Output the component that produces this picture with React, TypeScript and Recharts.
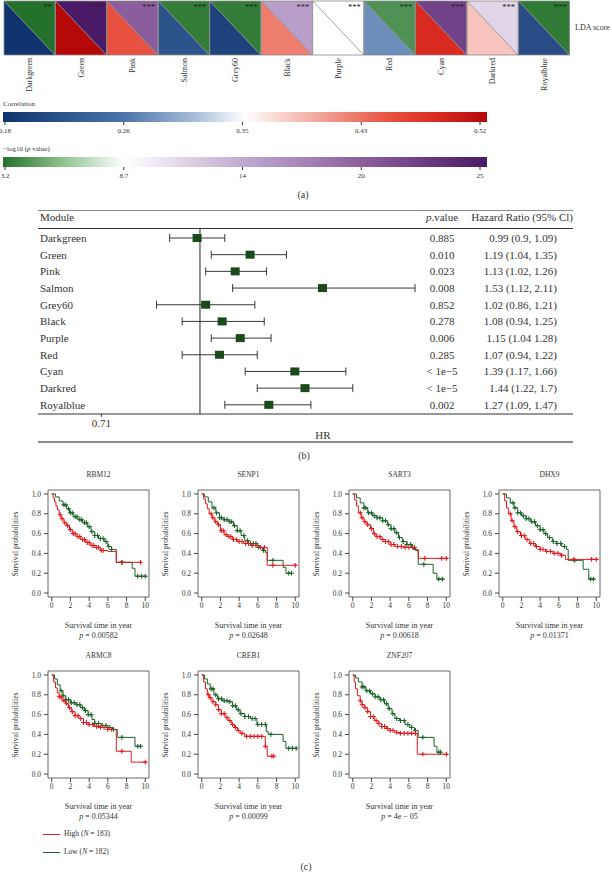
import React from "react";
import {
  BarChart, Bar, XAxis, YAxis, ComposedChart, Line, Scatter, ErrorBar, ReferenceLine, ReferenceArea,
} from "recharts";

const FONT = '"Liberation Serif", "Times New Roman", serif';
const INK = "#333";
const RED = "#e41a1c";
const GREEN = "#1c6428";

// ---- (a) module heatmap ----
const modules = ["Darkgreen", "Green", "Pink", "Salmon", "Grey60", "Black", "Purple", "Red", "Cyan", "Darkred", "Royalblue"];
const corrValues = [0.18, 0.52, 0.452, 0.221, 0.2, 0.425, 0.35, 0.282, 0.486, 0.384, 0.214];
const logpValues = [3.2, 25, 19.5, 3.6, 3.6, 14.8, 8.7, 4.3, 21.7, 11.3, 3.5];
const starLabels = ["**", "***", "***", "***", "***", "***", "***", "***", "***", "***", "***"];

const corrTicks = [0.18, 0.265, 0.35, 0.435, 0.52];
const corrTickLabels = ["0.18", "0.26", "0.35", "0.43", "0.52"];
const logpTicks = [3.2, 8.65, 14.1, 19.55, 25];
const logpTickLabels = ["3.2", "8.7", "14", "20", "25"];

const corrStops: [number, string][] = [
  [0, "#0f336e"], [0.25, "#4d75aa"], [0.4, "#a9c0da"], [0.5, "#ffffff"],
  [0.6, "#f6c4bc"], [0.7, "#ee8a7c"], [0.8, "#e85040"], [0.9, "#d82a20"], [1, "#b40808"],
];
const logpStops: [number, string][] = [
  [0, "#23712a"], [0.12, "#8cc08c"], [0.252, "#ffffff"], [0.5, "#c0a8d0"], [0.75, "#8a5c9c"], [1, "#4a1a66"],
];

// ---- (b) forest plot ----
const hrValues = [0.99, 1.19, 1.13, 1.53, 1.02, 1.08, 1.15, 1.07, 1.39, 1.44, 1.27];
const hrLower = [0.9, 1.04, 1.02, 1.12, 0.86, 0.94, 1.04, 0.94, 1.17, 1.22, 1.09];
const hrUpper = [1.09, 1.35, 1.26, 2.11, 1.21, 1.25, 1.28, 1.22, 1.66, 1.7, 1.47];
const pValueLabels = ["0.885", "0.010", "0.023", "0.008", "0.852", "0.278", "0.006", "0.285", "< 1e\u22125", "< 1e\u22125", "0.002"];
const hrLabels = [
  "0.99 (0.9, 1.09)", "1.19 (1.04, 1.35)", "1.13 (1.02, 1.26)", "1.53 (1.12, 2.11)", "1.02 (0.86, 1.21)",
  "1.08 (0.94, 1.25)", "1.15 (1.04 1.28)", "1.07 (0.94, 1.22)", "1.39 (1.17, 1.66)", "1.44 (1.22, 1.7)", "1.27 (1.09, 1.47)",
];
const hrTicks = [0.71];

// ---- (c) Kaplan-Meier curves ----
type Pt = [number, number];
const rbm12High: Pt[] = [[0,1],[0.15,0.96],[0.3,0.92],[0.45,0.88],[0.6,0.84],[0.8,0.79],[1.0,0.75],[1.3,0.71],[1.6,0.68],[1.9,0.64],[2.2,0.6],[2.6,0.57],[3.1,0.54],[3.6,0.51],[4.1,0.48],[4.6,0.46],[5.2,0.43],[6.0,0.42],[6.9,0.31],[9.5,0.31]];
const rbm12Low: Pt[] = [[0,1],[0.4,0.97],[0.8,0.93],[1.2,0.89],[1.6,0.85],[1.9,0.81],[2.3,0.77],[2.8,0.74],[3.3,0.71],[3.8,0.67],[4.2,0.62],[4.6,0.58],[5.0,0.55],[5.6,0.52],[6.0,0.47],[6.4,0.44],[6.9,0.31],[8.6,0.25],[8.9,0.17],[10.2,0.17]];
const rbm12HighCens = [0.9,1.1,1.4,1.7,2.0,2.3,2.5,2.8,3.0,3.3,3.5,3.8,4.0,4.3,4.5,4.8,5.0,5.3,5.5,7.5,9.5];
const rbm12LowCens = [1.3,1.5,1.8,2.0,2.2,2.5,2.7,3.0,3.2,3.5,3.7,4.0,4.3,4.6,4.9,5.2,5.5,5.8,6.1,6.4,7.5,9.2,9.6,10.0];

const senp1High: Pt[] = [[0,1],[0.2,0.95],[0.4,0.9],[0.6,0.85],[0.8,0.8],[1.1,0.76],[1.4,0.72],[1.7,0.69],[2.0,0.63],[2.4,0.59],[2.8,0.57],[3.3,0.54],[3.8,0.52],[4.5,0.5],[5.3,0.48],[6.2,0.46],[7.0,0.28],[10.2,0.28]];
const senp1Low: Pt[] = [[0,1],[0.3,0.97],[0.7,0.92],[1.1,0.86],[1.5,0.81],[1.9,0.76],[2.4,0.74],[2.9,0.72],[3.4,0.68],[3.8,0.63],[4.2,0.58],[4.6,0.53],[5.0,0.5],[6.0,0.46],[6.5,0.43],[6.8,0.41],[7.0,0.33],[8.7,0.26],[9.0,0.2],[9.6,0.2]];
const senp1HighCens = [1.0,1.2,1.5,1.8,2.1,2.3,2.6,2.9,3.1,3.4,3.7,4.0,4.3,4.7,5.0,5.4,5.8,6.3,6.7,7.6,10.0];
const senp1LowCens = [1.3,1.6,1.9,2.1,2.4,2.7,3.0,3.2,3.5,3.8,4.1,4.5,4.9,5.2,5.5,5.8,6.1,6.6,7.6,9.3,9.6];

const sart3High: Pt[] = [[0,1],[0.2,0.94],[0.4,0.88],[0.6,0.81],[0.9,0.76],[1.2,0.72],[1.5,0.69],[1.9,0.65],[2.2,0.6],[2.5,0.57],[3.0,0.54],[3.5,0.52],[4.0,0.49],[4.5,0.47],[5.5,0.46],[6.5,0.44],[7.0,0.35],[10.2,0.35]];
const sart3Low: Pt[] = [[0,1],[0.4,0.96],[0.8,0.91],[1.2,0.86],[1.6,0.81],[2.1,0.78],[2.6,0.76],[3.2,0.73],[3.7,0.69],[4.1,0.65],[4.5,0.61],[4.9,0.56],[5.3,0.52],[5.8,0.49],[6.3,0.46],[6.7,0.43],[7.0,0.29],[8.6,0.2],[9.0,0.14],[9.7,0.14]];
const sart3HighCens = [0.8,1.0,1.3,1.6,2.0,2.3,2.6,2.9,3.2,3.5,3.8,4.1,4.4,4.8,5.2,5.6,6.0,6.4,7.7,9.5,10.0];
const sart3LowCens = [1.2,1.4,1.7,2.0,2.3,2.6,2.9,3.2,3.5,3.8,4.1,4.4,4.7,5.0,5.4,5.8,6.2,6.6,7.6,9.2,9.6];

const dhx9High: Pt[] = [[0,1],[0.2,0.93],[0.4,0.86],[0.6,0.8],[0.9,0.73],[1.2,0.67],[1.5,0.62],[1.9,0.58],[2.4,0.54],[2.9,0.5],[3.5,0.47],[4.0,0.44],[4.6,0.42],[5.4,0.4],[6.2,0.38],[6.7,0.34],[10.2,0.34]];
const dhx9Low: Pt[] = [[0,1],[0.4,0.96],[0.8,0.91],[1.2,0.86],[1.6,0.81],[2.0,0.78],[2.5,0.75],[3.0,0.72],[3.5,0.68],[4.0,0.64],[4.4,0.6],[4.8,0.56],[5.3,0.52],[5.8,0.5],[6.3,0.47],[6.8,0.44],[7.0,0.33],[8.6,0.24],[9.2,0.14],[9.8,0.14]];
const dhx9HighCens = [0.8,1.0,1.3,1.6,2.0,2.3,2.6,3.0,3.3,3.6,4.0,4.3,4.7,5.1,5.5,5.9,6.3,7.6,9.5,10.0];
const dhx9LowCens = [1.1,1.3,1.6,1.9,2.2,2.5,2.8,3.1,3.4,3.7,4.0,4.3,4.6,5.0,5.4,5.8,6.2,6.6,7.7,9.4,9.7];

const armc8High: Pt[] = [[0,1],[0.2,0.93],[0.4,0.87],[0.6,0.82],[0.8,0.78],[1.1,0.74],[1.5,0.71],[1.8,0.67],[2.1,0.63],[2.5,0.59],[2.9,0.56],[3.4,0.52],[3.9,0.5],[4.5,0.48],[5.2,0.47],[6.0,0.45],[6.9,0.23],[8.5,0.12],[10.1,0.12]];
const armc8Low: Pt[] = [[0,1],[0.3,0.96],[0.6,0.9],[0.9,0.84],[1.2,0.79],[1.5,0.75],[2.0,0.72],[2.6,0.7],[3.1,0.67],[3.5,0.64],[3.9,0.6],[4.3,0.55],[4.6,0.51],[5.3,0.49],[6.0,0.47],[6.5,0.45],[7.0,0.37],[8.9,0.28],[9.6,0.28]];
const armc8HighCens = [0.8,1.0,1.3,1.6,1.9,2.2,2.5,2.8,3.1,3.4,3.7,4.0,4.4,4.8,5.2,5.6,6.0,6.4,7.5,10.0];
const armc8LowCens = [1.0,1.2,1.5,1.8,2.1,2.4,2.7,3.0,3.3,3.6,3.9,4.2,4.6,5.0,5.4,5.8,6.2,6.6,7.5,9.2,9.5];

const creb1High: Pt[] = [[0,1],[0.2,0.93],[0.4,0.86],[0.6,0.8],[0.8,0.77],[1.1,0.73],[1.5,0.7],[1.8,0.65],[2.1,0.61],[2.5,0.57],[2.8,0.54],[3.2,0.5],[3.5,0.47],[3.8,0.44],[4.1,0.41],[4.6,0.38],[6.8,0.28],[7.0,0.18],[7.7,0.18]];
const creb1Low: Pt[] = [[0,1],[0.3,0.96],[0.6,0.91],[0.9,0.86],[1.3,0.8],[1.7,0.76],[2.2,0.74],[2.9,0.73],[3.3,0.69],[3.7,0.65],[4.1,0.61],[4.6,0.58],[5.2,0.56],[5.9,0.5],[6.9,0.43],[7.1,0.4],[8.7,0.33],[9.0,0.26],[10.2,0.26]];
const creb1HighCens = [0.7,0.9,1.2,1.5,1.8,2.1,2.4,2.7,3.0,3.3,3.6,3.9,4.3,4.8,5.2,5.6,6.0,6.4,6.8,7.5,7.7];
const creb1LowCens = [1.0,1.2,1.5,1.8,2.1,2.4,2.7,3.0,3.3,3.6,3.9,4.2,4.6,5.0,5.4,5.7,6.0,6.4,6.8,7.4,9.3,9.7,10.1];

const znf207High: Pt[] = [[0,1],[0.15,0.93],[0.3,0.86],[0.5,0.79],[0.8,0.74],[1.0,0.7],[1.3,0.67],[1.6,0.63],[1.9,0.58],[2.3,0.54],[2.7,0.51],[3.1,0.48],[3.6,0.46],[4.0,0.44],[4.5,0.42],[5.0,0.41],[6.9,0.2],[10.2,0.2]];
const znf207Low: Pt[] = [[0,1],[0.3,0.97],[0.6,0.93],[1.0,0.88],[1.4,0.84],[1.9,0.81],[2.4,0.78],[2.9,0.75],[3.4,0.71],[3.8,0.66],[4.2,0.61],[4.5,0.56],[5.0,0.54],[5.6,0.5],[6.1,0.47],[6.6,0.44],[7.0,0.37],[8.7,0.28],[9.0,0.22],[9.5,0.22]];
const znf207HighCens = [0.8,1.0,1.3,1.6,1.9,2.2,2.5,2.8,3.1,3.4,3.7,4.0,4.3,4.7,5.1,5.5,5.9,6.3,6.7,7.5,10.0];
const znf207LowCens = [1.0,1.2,1.5,1.8,2.1,2.4,2.7,3.0,3.3,3.6,3.9,4.3,4.7,5.1,5.5,5.9,6.3,6.7,7.5,9.2,9.4];

const kmGenes = ["RBM12", "SENP1", "SART3", "DHX9", "ARMC8", "CREB1", "ZNF207"];
const kmPValues = ["0.00582", "0.02648", "0.00618", "0.01371", "0.05344", "0.00099", "4e \u2212 05"];
const kmHigh = [rbm12High, senp1High, sart3High, dhx9High, armc8High, creb1High, znf207High];
const kmLow = [rbm12Low, senp1Low, sart3Low, dhx9Low, armc8Low, creb1Low, znf207Low];
const kmHighCens = [rbm12HighCens, senp1HighCens, sart3HighCens, dhx9HighCens, armc8HighCens, creb1HighCens, znf207HighCens];
const kmLowCens = [rbm12LowCens, senp1LowCens, sart3LowCens, dhx9LowCens, armc8LowCens, creb1LowCens, znf207LowCens];
const kmXTicks = [0, 2, 4, 6, 8, 10];
const kmYTicks = [0, 0.2, 0.4, 0.6, 0.8, 1.0];

// layout
const KM_COLS = [48, 198, 349, 499];
const KM_ROWS = [490, 671];
const BOX_W = 101;
const BOX_H = 107;

function hexToRgb(h: string) {
  const n = parseInt(h.slice(1), 16);
  return [(n >> 16) & 255, (n >> 8) & 255, n & 255];
}
function ramp(stops: [number, string][], t: number) {
  const u = Math.max(0, Math.min(1, t));
  for (let i = 1; i < stops.length; i++) {
    if (u <= stops[i][0]) {
      const [t0, c0] = stops[i - 1];
      const [t1, c1] = stops[i];
      const f = (u - t0) / (t1 - t0 || 1);
      const a = hexToRgb(c0), b = hexToRgb(c1);
      return `rgb(${a.map((v, k) => Math.round(v + (b[k] - v) * f)).join(",")})`;
    }
  }
  return stops[stops.length - 1][1];
}

const T = ({ x, y, size = 8, anchor = "start", children }: any) => (
  <div style={{
    position: "absolute", left: x, top: y, fontSize: size, lineHeight: 1, whiteSpace: "nowrap",
    transform: `translate(${anchor === "middle" ? "-50%" : anchor === "end" ? "-100%" : "0"}, -50%)`,
  }}>{children}</div>
);

const HLine = ({ x, y, w, h = 1, color = "#333" }: any) => (
  <div style={{ position: "absolute", left: x, top: y, width: w, height: h, background: color }} />
);

function Tile(props: any) {
  const { x, y, width: w, height: h, payload } = props;
  const cc = ramp(corrStops, (payload.corr - 0.18) / 0.34);
  const pc = ramp(logpStops, (payload.logp - 3.2) / 21.8);
  return (
    <g>
      <path d={`M${x},${y}L${x},${y + h}L${x + w},${y + h}Z`} fill={cc} />
      <path d={`M${x},${y}L${x + w},${y}L${x + w},${y + h}Z`} fill={pc} />
      <line x1={x} y1={y} x2={x + w} y2={y + h} stroke="#8a8a8a" strokeWidth={0.8} />
      <rect x={x} y={y} width={w} height={h} fill="none" stroke="#8a8a8a" strokeWidth={0.8} />
      <text x={x + w - 3} y={y + 9} textAnchor="end" fontSize={8.5} fill="#222" fontFamily={FONT}>{payload.stars}</text>
    </g>
  );
}

const ModuleTick = ({ x, payload }: any) => (
  <text x={x} y={58} transform={`rotate(-90 ${x} 58)`} textAnchor="end" dominantBaseline="central"
    fontSize={8} fill={INK} fontFamily={FONT}>{payload.value}</text>
);

function ColorBar({ top, domain, ticks, labels, stops }: any) {
  const data = ticks.map((v: number) => ({ v }));
  const grad = `linear-gradient(to right, ${stops.map(([o, c]: [number, string]) => `${c} ${o * 100}%`).join(", ")})`;
  return (
    <div style={{ position: "absolute", left: 0, top }}>
      <div style={{ position: "absolute", left: 3, top: 0, width: 484, height: 10, background: grad }} />
      <ComposedChart width={500} height={26} data={data} margin={{ top: 0, right: 13, bottom: 0, left: 3 }}>
        <XAxis type="number" dataKey="v" domain={domain} ticks={ticks} interval={0} allowDataOverflow
          axisLine={false} tickSize={3} tickLine={{ stroke: "#333" }} height={16}
          tick={{ fontSize: 7, fill: "#333", fontFamily: FONT }} tickMargin={3}
          tickFormatter={(v: number) => labels[ticks.indexOf(v)]} />
        <YAxis hide domain={[0, 1]} />
      </ComposedChart>
    </div>
  );
}

const ForestTick = ({ y, payload }: any) => {
  const i = payload.value;
  return (
    <g fontFamily={FONT} fontSize={11} fill={INK}>
      <text x={40} y={y} dominantBaseline="central">{modules[i]}</text>
      <text x={442} y={y} dominantBaseline="central" textAnchor="middle">{pValueLabels[i]}</text>
      <text x={557} y={y} dominantBaseline="central" textAnchor="end">{hrLabels[i]}</text>
    </g>
  );
};

const HRBox = ({ cx, cy }: any) => <rect x={cx - 4.5} y={cy - 4} width={9} height={8} fill="#1a4a1a" />;

const toRows = (pts: Pt[]) => pts.map(([t, s]) => ({ t, s }));
const stepAt = (pts: Pt[], t: number) => {
  let s = pts[0][1];
  for (const [tt, ss] of pts) if (tt <= t) s = ss;
  return s;
};
const marks = (pts: Pt[], times: number[]) => times.map((t) => ({ t, s: stepAt(pts, t) }));
const plusShape = (color: string) => (p: any) => (
  <path d={`M${p.cx - 2.4},${p.cy}h4.8M${p.cx},${p.cy - 2.4}v4.8`} stroke={color} strokeWidth={1.1} fill="none" />
);

function KMPlot({ k }: { k: number }) {
  const bx = KM_COLS[k < 4 ? k : k - 4];
  const by = KM_ROWS[k < 4 ? 0 : 1];
  const cx = bx + BOX_W / 2;
  const tickStyle = { fontSize: 7.5, fill: "#333", fontFamily: FONT };
  return (
    <>
      <T x={cx} y={by - 15} anchor="middle" size={7.5}>{kmGenes[k]}</T>
      <div style={{
        position: "absolute", left: bx - 32, top: by + BOX_H / 2, fontSize: 7.5, whiteSpace: "nowrap",
        transform: "translate(-50%, -50%) rotate(-90deg)", lineHeight: 1,
      }}>Survival probabilities</div>
      <div style={{ position: "absolute", left: bx - 40, top: by - 20 }}>
        <ComposedChart width={150} height={150} margin={{ top: 20, right: 9, bottom: 0, left: 0 }}>
          <XAxis type="number" dataKey="t" domain={[-0.4, 10.4]} ticks={kmXTicks} interval={0} allowDataOverflow
            axisLine={false} tickSize={4} tickLine={{ stroke: "#444" }} tick={tickStyle} tickMargin={2} height={23} />
          <YAxis type="number" dataKey="s" domain={[-0.04, 1.04]} ticks={kmYTicks} interval={0} allowDataOverflow
            axisLine={false} tickSize={4} tickLine={{ stroke: "#444" }} tick={tickStyle} tickMargin={3} width={40}
            tickFormatter={(v: number) => v.toFixed(1)} />
          <ReferenceArea x1={-0.4} x2={10.4} y1={-0.04} y2={1.04} fill="none" stroke="#444" strokeWidth={0.8} />
          <Line data={toRows(kmLow[k])} dataKey="s" type="stepAfter" stroke={GREEN} strokeWidth={1} dot={false} isAnimationActive={false} />
          <Line data={toRows(kmHigh[k])} dataKey="s" type="stepAfter" stroke={RED} strokeWidth={1} dot={false} isAnimationActive={false} />
          <Scatter data={marks(kmLow[k], kmLowCens[k])} dataKey="s" shape={plusShape(GREEN)} isAnimationActive={false} />
          <Scatter data={marks(kmHigh[k], kmHighCens[k])} dataKey="s" shape={plusShape(RED)} isAnimationActive={false} />
        </ComposedChart>
      </div>
      <T x={cx} y={by + BOX_H + 29} anchor="middle" size={8}>Survival time in year</T>
      <T x={cx} y={by + BOX_H + 39} anchor="middle" size={8}><i>p</i> = {kmPValues[k]}</T>
    </>
  );
}

export default function App() {
  const heatData = modules.map((m, i) => ({ module: m, one: 1, corr: corrValues[i], logp: logpValues[i], stars: starLabels[i] }));
  const forestData = modules.map((m, i) => ({
    idx: i, hr: hrValues[i], err: [hrValues[i] - hrLower[i], hrUpper[i] - hrValues[i]],
  }));

  return (
    <div style={{ position: "absolute", left: 0, top: 0, width: 612, height: 883, background: "#fff", fontFamily: FONT, color: INK, overflow: "hidden" }}>
      {/* (a) */}
      <div style={{ position: "absolute", left: 0, top: 0 }}>
        <BarChart width={612} height={100} data={heatData} margin={{ top: 1, right: 42, bottom: 0, left: 4 }} barCategoryGap={0}>
          <XAxis dataKey="module" height={45} interval={0} tickLine={false} axisLine={false} tick={ModuleTick} />
          <YAxis hide domain={[0, 1]} />
          <Bar dataKey="one" shape={Tile} isAnimationActive={false} />
        </BarChart>
      </div>
      <T x={575} y={28} size={8}>LDA score</T>

      <T x={3} y={104} size={7}>Correlation</T>
      <ColorBar top={112} domain={[0.1786, 0.525]} ticks={corrTicks} labels={corrTickLabels} stops={corrStops} />
      <T x={3} y={149} size={7}>{"\u2212log10 ("}<i>p</i>{" value)"}</T>
      <ColorBar top={157} domain={[3.108, 25.32]} ticks={logpTicks} labels={logpTickLabels} stops={logpStops} />
      <T x={303} y={195} anchor="middle" size={10}>(a)</T>

      {/* (b) */}
      <HLine x={38} y={209.5} w={535} h={1.5} color="#8a8a8a" />
      <T x={40} y={217} size={11}>Module</T>
      <T x={442} y={217} anchor="middle" size={11}><i>p</i>.value</T>
      <T x={573} y={217} anchor="end" size={11}>Hazard Ratio (95% Cl)</T>
      <HLine x={38} y={227.5} w={535} h={1} color="#333" />
      <div style={{ position: "absolute", left: 0, top: 200 }}>
        <ComposedChart width={612} height={250} data={forestData} margin={{ top: 28, right: 39, bottom: 0, left: 0 }}>
          <XAxis type="number" dataKey="hr" scale="log" domain={[0.5698, 3.652]} allowDataOverflow ticks={hrTicks}
            interval={0} height={36} axisLine={{ stroke: "#333" }} tickLine={{ stroke: "#333" }} tickSize={3}
            tickMargin={2} tick={{ fontSize: 11, fill: INK, fontFamily: FONT }} tickFormatter={(v: number) => v.toFixed(2)} />
          <YAxis type="number" dataKey="idx" domain={[-0.6, 10.55]} allowDataOverflow reversed ticks={modules.map((_, i) => i)}
            interval={0} width={38} axisLine={false} tickLine={false} tick={ForestTick} />
          <ReferenceLine x={1} stroke="#222" strokeWidth={1} />
          <Scatter dataKey="idx" shape={HRBox} isAnimationActive={false}>
            <ErrorBar dataKey="err" direction="x" width={4} stroke="#222" strokeWidth={0.9} />
          </Scatter>
        </ComposedChart>
      </div>
      <T x={323} y={435} anchor="middle" size={11}>HR</T>
      <HLine x={38} y={441} w={535} h={1.5} color="#8a8a8a" />
      <T x={304} y={456} anchor="middle" size={10}>(b)</T>

      {/* (c) */}
      {kmGenes.map((g, k) => <KMPlot key={g} k={k} />)}
      <HLine x={43} y={834} w={17} h={1} color={RED} />
      <T x={64} y={834} size={7.5}>High (<i>N</i> = 183)</T>
      <HLine x={43} y={852} w={17} h={1} color={GREEN} />
      <T x={64} y={852} size={7.5}>Low (<i>N</i> = 182)</T>
      <T x={306} y={867} anchor="middle" size={10}>(c)</T>
    </div>
  );
}
